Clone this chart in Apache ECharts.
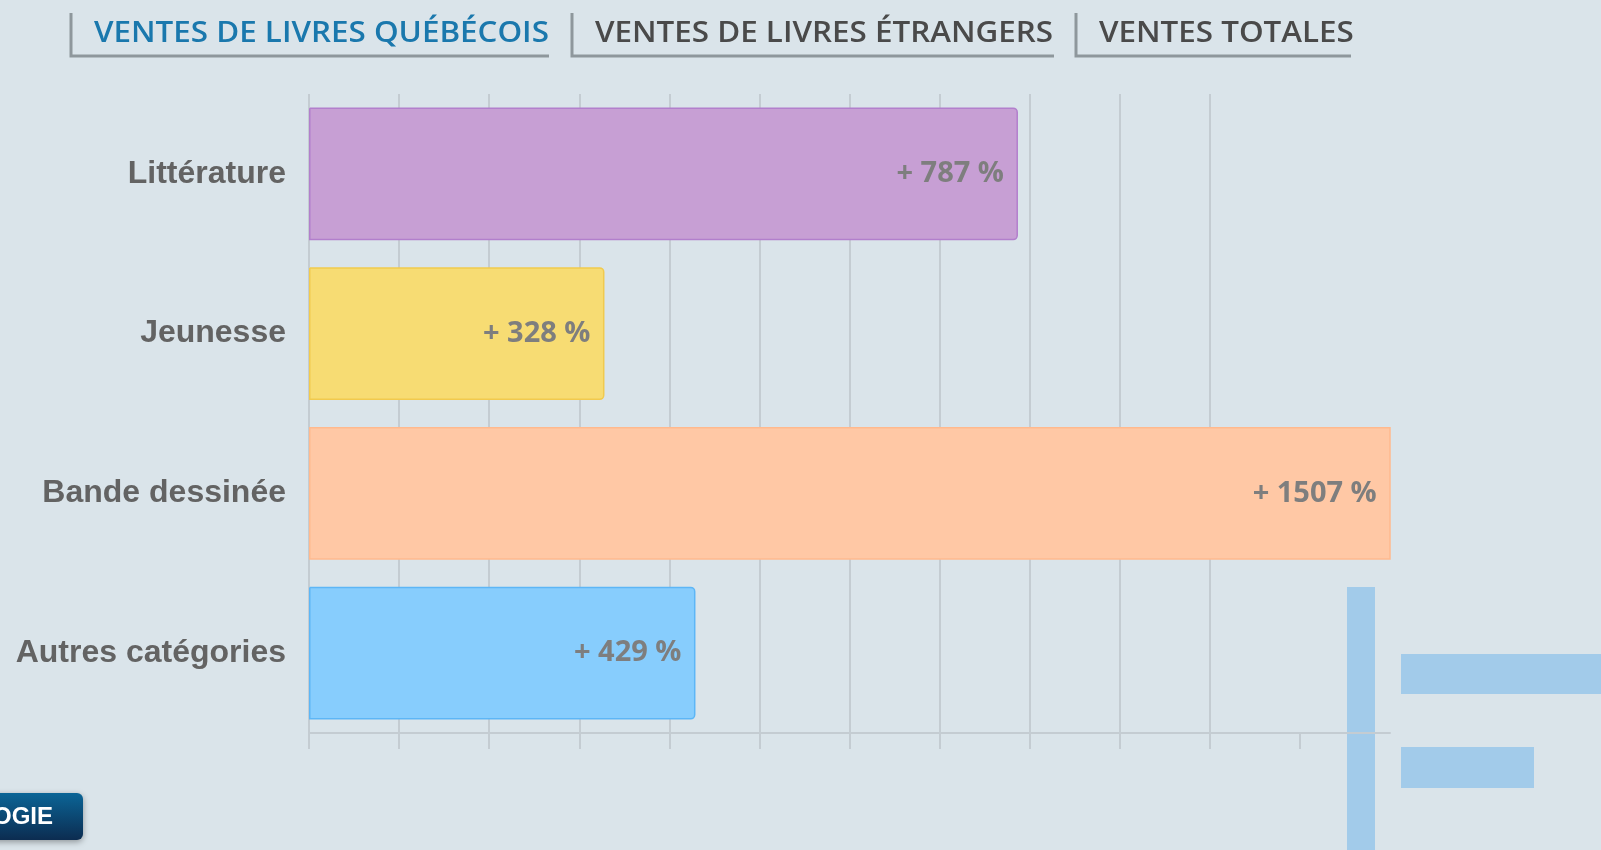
<!DOCTYPE html>
<html>
<head>
<meta charset="utf-8">
<title>Ventes de livres québécois</title>
<script src="https://cdn.jsdelivr.net/npm/echarts@6/dist/echarts.min.js"></script>
<style>
html,body{margin:0;padding:0;background:#dae4ea;overflow:hidden;}
#chart{width:1601px;height:850px;}
</style>
</head>
<body>
<div id="chart"></div>
<script>
// onglets du haut
var tabs = ['VENTES DE LIVRES QUÉBÉCOIS', 'VENTES DE LIVRES ÉTRANGERS', 'VENTES TOTALES'];
// catégories de livres
var categories = ['Littérature', 'Jeunesse', 'Bande dessinée', 'Autres catégories'];
// hausse des ventes (%)
var hausses = [787, 328, 1507, 429];
// graduations de l'axe des valeurs
var graduations = [0, 100, 200, 300, 400, 500, 600, 700, 800, 900, 1000, 1100];
var maxAxe = 1200;

var couleurs = ['#c79fd4', '#f7dc73', '#ffc8a5', '#87cdfd'];
var bordures = ['#b27fcc', '#f1ca4e', '#ffb98e', '#5db6f6'];
var gris = '#c4ccd2';

var chart = echarts.init(document.getElementById('chart'));

// onglets : trait gauche + trait bas + texte (police élargie un peu)
var tabPos = [[71, 478], [572, 482], [1076, 275]];
var graphic = [];
tabs.forEach(function(t, i){
    graphic.push({
        type: 'group', x: tabPos[i][0], y: 13,
        children: [
            {type: 'polyline', shape: {points: [[0, 0], [0, 43], [tabPos[i][1], 43]]},
                style: {stroke: '#8e979c', lineWidth: 3, fill: null}},
            {type: 'text', x: 23, y: 21, scaleX: 1.12,
                style: {text: t, fill: i === 0 ? '#1a78ad' : '#4a4a4a', font: '600 28px "Open Sans"',
                    textVerticalAlign: 'middle'}}
        ]
    });
});
// décor bleu en bas à droite (transparent : l'axe reste visible dessous)
graphic.push({type: 'rect', shape: {x: 1347, y: 587, width: 28, height: 263}, style: {fill: 'rgba(106,178,234,0.5)'}});
graphic.push({type: 'rect', shape: {x: 1401, y: 654, width: 200, height: 40}, style: {fill: '#a2cbea'}});
graphic.push({type: 'rect', shape: {x: 1401, y: 747, width: 133, height: 41}, style: {fill: '#a2cbea'}});
// bouton (coupé à gauche)
graphic.push({
    type: 'rect', shape: {x: -12, y: 793, width: 95, height: 47, r: 6},
    style: {
        fill: {type: 'linear', x: 0, y: 0, x2: 0, y2: 1,
            colorStops: [{offset: 0, color: '#0b6597'}, {offset: 1, color: '#0c2c50'}]},
        shadowBlur: 6, shadowColor: 'rgba(0,0,0,0.35)', shadowOffsetY: 2
    }
});
graphic.push({type: 'text', x: 53, y: 817,
    style: {text: 'OGIE', fill: '#ffffff', font: 'bold 24px "Liberation Sans"', textAlign: 'right', textVerticalAlign: 'middle'}});

chart.setOption({
    backgroundColor: '#dae4ea',
    animation: false,
    grid: {left: 309, right: 211, top: 94, bottom: 117, containLabel: false},
    xAxis: {
        type: 'value', min: 0, max: maxAxe, interval: 100,
        axisLabel: {show: false},
        axisLine: {show: true, lineStyle: {color: gris, width: 2}},
        axisTick: {show: true, length: 16, customValues: graduations, lineStyle: {color: gris, width: 2}},
        splitLine: {show: true, showMaxLine: false, lineStyle: {color: gris, width: 2}}
    },
    yAxis: {
        type: 'category', data: categories, inverse: true,
        axisLine: {show: false}, axisTick: {show: false}, splitLine: {show: false},
        axisLabel: {fontSize: 32, fontWeight: 'bold', color: '#636363', fontFamily: 'Liberation Sans', margin: 23}
    },
    series: [{
        type: 'bar',
        clip: true,
        barCategoryGap: '16.8%',
        data: hausses.map(function(v, i){
            // barre coupée au bout de l'axe : coins droits
            var r = v > maxAxe ? 0 : [0, 4, 4, 0];
            return {value: v, itemStyle: {color: couleurs[i], borderColor: bordures[i], borderRadius: r}};
        }),
        itemStyle: {borderWidth: 1.5},
        label: {
            show: true, position: 'insideRight', distance: 14,
            formatter: function(p){ return '+ ' + p.value + ' %'; },
            fontFamily: 'Open Sans', fontWeight: 700, fontSize: 29, color: '#7e7e7e'
        }
    }],
    graphic: graphic
});
</script>
</body>
</html>
